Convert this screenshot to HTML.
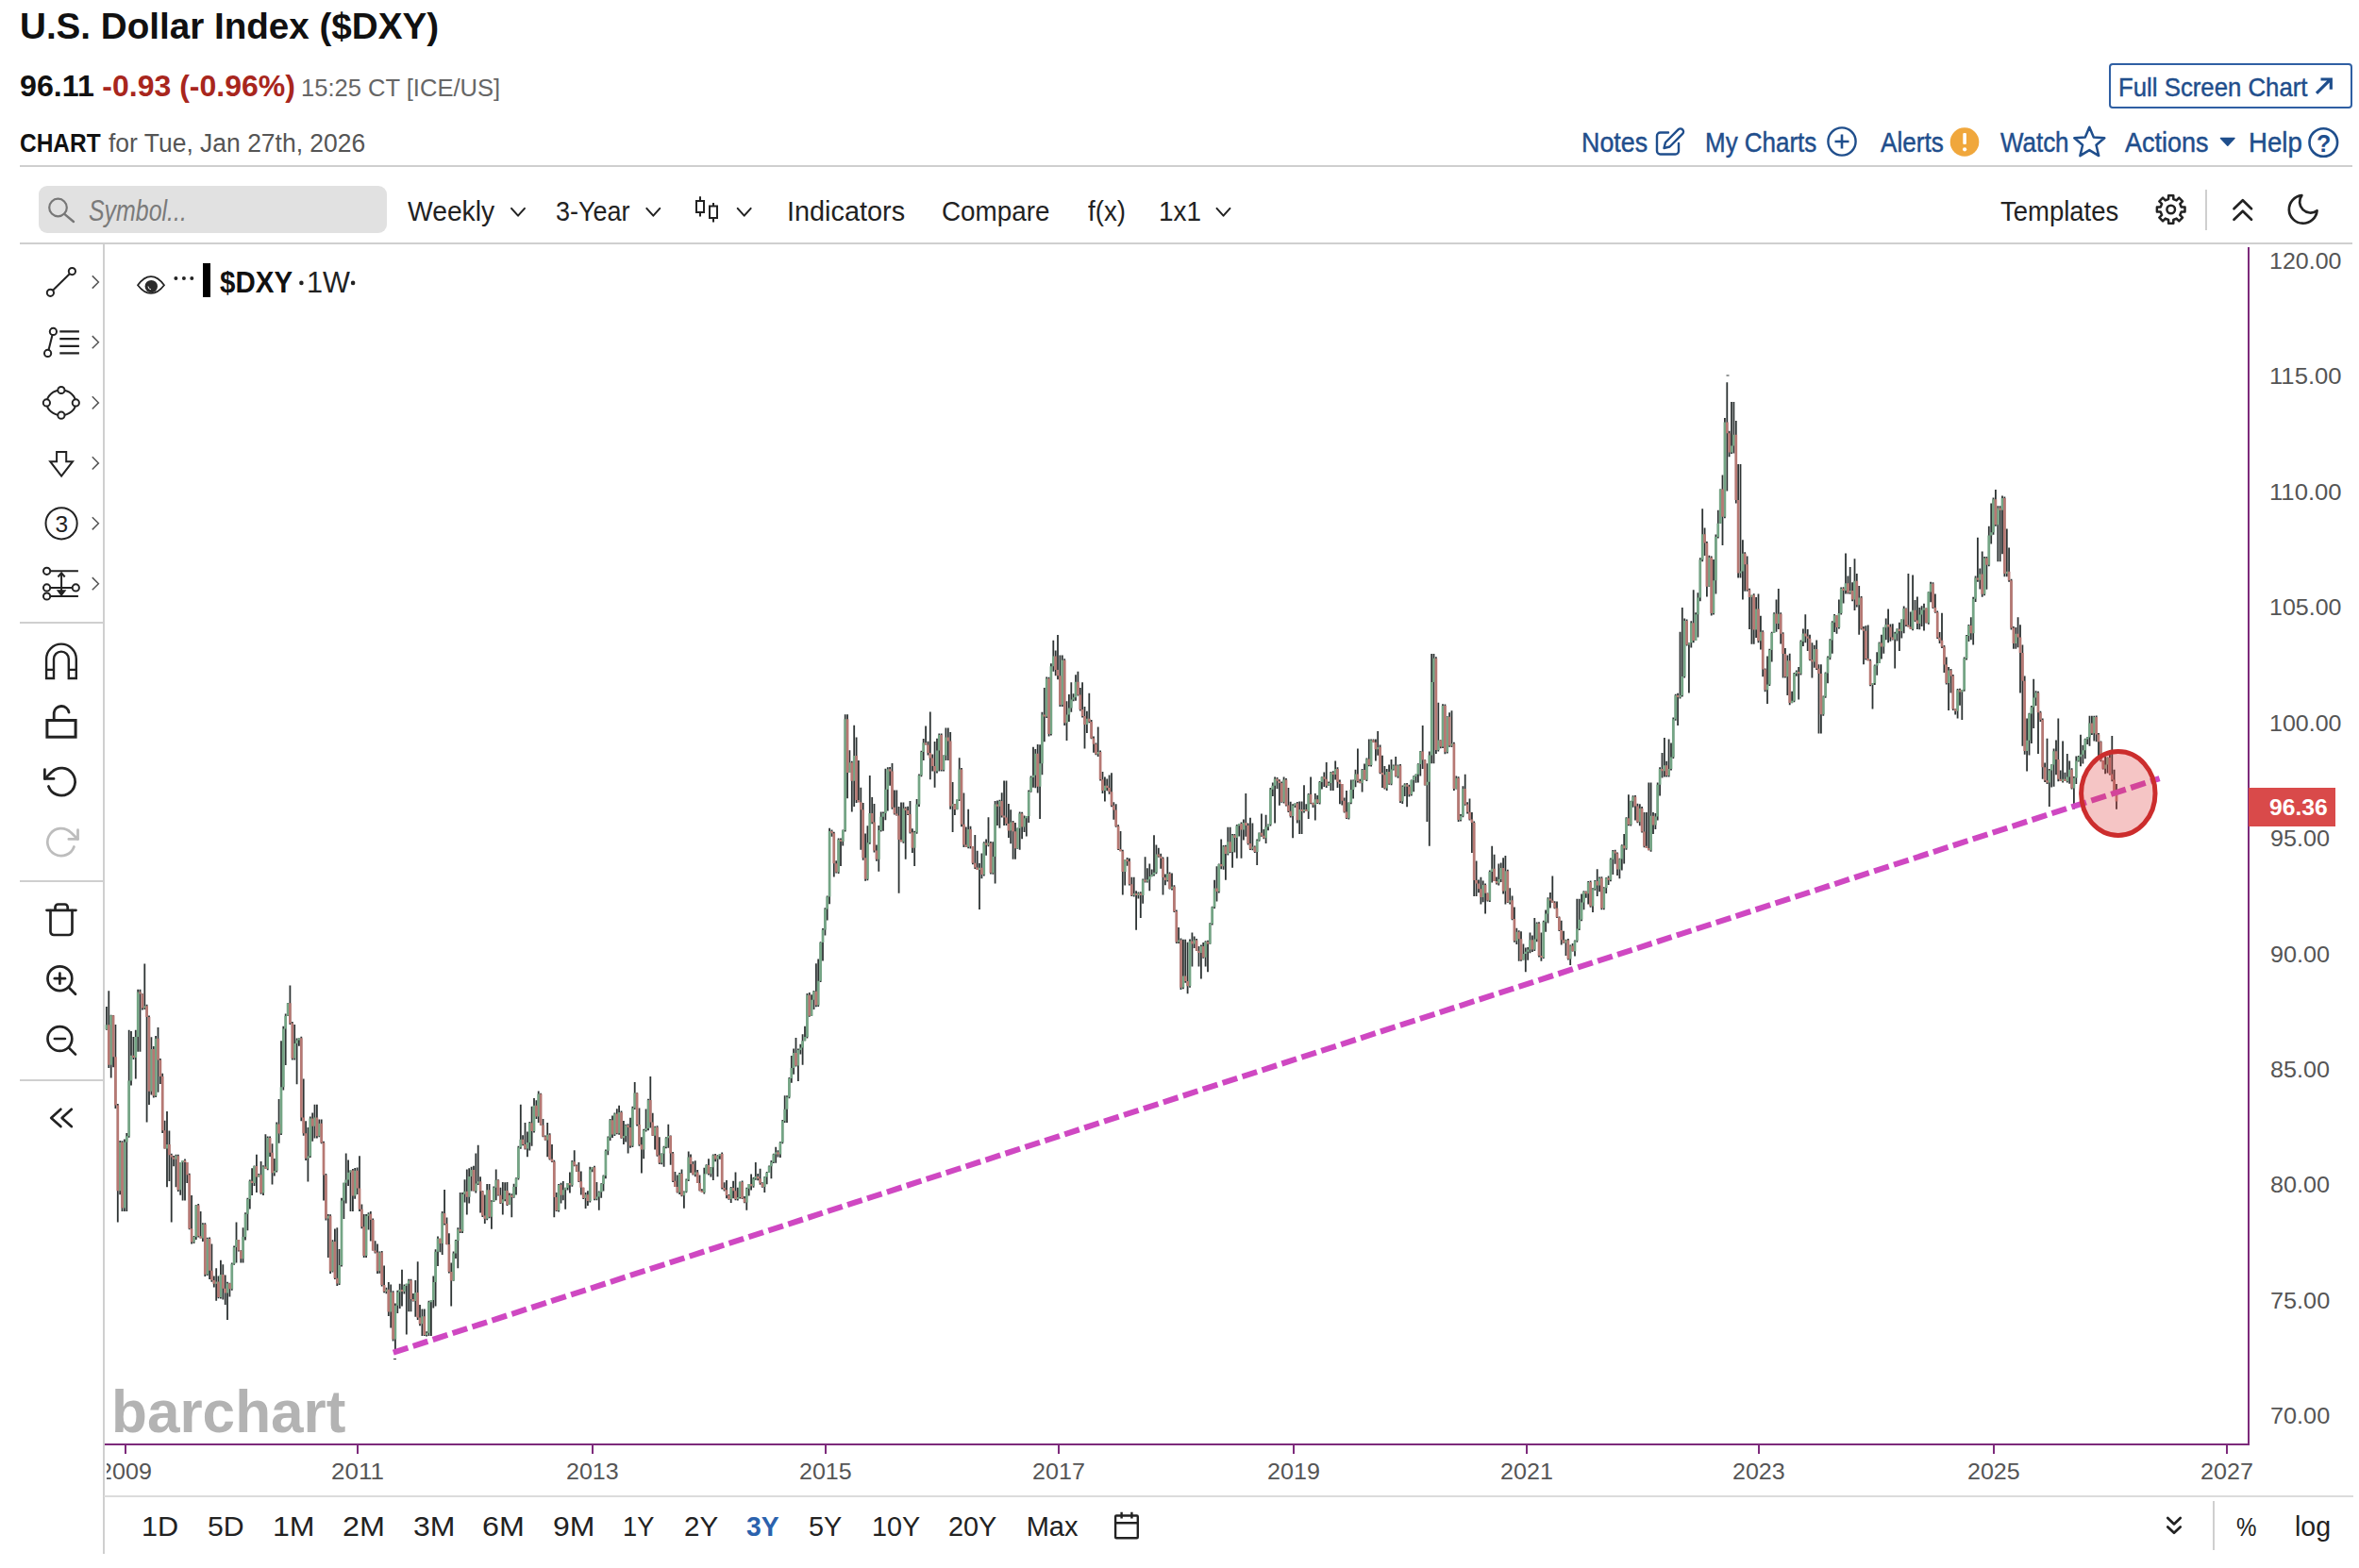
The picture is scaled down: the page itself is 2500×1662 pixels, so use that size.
<!DOCTYPE html>
<html><head><meta charset="utf-8"><title>U.S. Dollar Index ($DXY)</title>
<style>
html,body{margin:0;padding:0;background:#fff;}
body{width:2500px;height:1662px;position:relative;overflow:hidden;font-family:"Liberation Sans",sans-serif;}
.abs{position:absolute;}
.t{position:absolute;white-space:nowrap;margin:0;padding:0;transform-origin:0 0;}
svg{overflow:visible}
</style></head><body>
<span class="t" style="left:20.6px;top:7.5px;font-size:39.4px;line-height:39.4px;color:#111;transform:scaleX(0.9800);font-weight:bold;">U.S. Dollar Index ($DXY)</span>
<span class="t" style="left:21.3px;top:75.1px;font-size:32px;line-height:32px;color:#111;transform:scaleX(1.0063);font-weight:bold;">96.11</span>
<span class="t" style="left:108.3px;top:75.1px;font-size:32px;line-height:32px;color:#a8261d;font-weight:bold;">-0.93 (-0.96%)</span>
<span class="t" style="left:319.1px;top:79.8px;font-size:26.5px;line-height:26.5px;color:#666;transform:scaleX(0.9643);">15:25 CT [ICE/US]</span>
<span class="t" style="left:21.4px;top:139.1px;font-size:27px;line-height:27px;color:#111;transform:scaleX(0.9061);font-weight:bold;">CHART</span>
<span class="t" style="left:115.4px;top:139.1px;font-size:27px;line-height:27px;color:#555;transform:scaleX(0.9803);">for Tue, Jan 27th, 2026</span>
<svg class="abs" style="left:0;top:0" width="2500" height="1662" viewBox="0 0 2500 1662"><path d="M112.9 1066.9V1091.8M115.3 1050.2V1132.0M117.7 1075.7V1142.5M120.1 1075.9V1131.3M122.4 1086.1V1175.0M124.8 1170.0V1295.6M127.2 1209.1V1266.3M129.5 1209.3V1284.1M131.9 1207.6V1284.1M134.3 1200.9V1284.1M136.7 1091.8V1205.7M139.0 1093.1V1150.6M141.4 1098.9V1123.0M143.8 1091.8V1143.5M146.2 1048.8V1114.8M148.5 1048.8V1114.8M150.9 1053.3V1070.5M153.3 1021.5V1069.9M155.6 1064.7V1189.4M158.0 1076.5V1171.0M160.4 1099.2V1160.6M162.8 1109.0V1163.6M165.1 1098.1V1162.9M167.5 1089.0V1157.8M169.9 1122.1V1149.1M172.2 1137.7V1200.9M174.6 1187.7V1217.6M177.0 1177.9V1258.2M179.4 1198.4V1252.0M181.7 1222.8V1295.6M184.1 1225.0V1236.3M186.5 1223.8V1258.2M188.8 1223.7V1262.9M191.2 1231.9V1266.8M193.6 1229.9V1272.6M196.0 1228.4V1272.6M198.3 1232.0V1254.0M200.7 1243.8V1303.3M203.1 1266.9V1318.5M205.5 1310.1V1317.9M207.8 1277.0V1314.0M210.2 1275.9V1311.6M212.6 1284.1V1312.4M214.9 1296.2V1315.9M217.3 1296.2V1352.9M219.7 1311.7V1352.1M222.1 1311.4V1356.1M224.4 1318.5V1358.7M226.8 1352.6V1364.5M229.2 1344.3V1378.8M231.5 1352.6V1376.3M233.9 1335.7V1376.4M236.3 1340.3V1377.5M238.7 1351.5V1383.0M241.0 1358.7V1398.9M243.4 1359.7V1374.5M245.8 1338.6V1367.7M248.1 1320.5V1340.8M250.5 1295.6V1338.6M252.9 1314.0V1326.5M255.3 1325.3V1338.6M257.6 1301.3V1338.6M260.0 1285.2V1314.4M262.4 1269.7V1304.2M264.8 1250.5V1281.4M267.1 1238.2V1266.9M269.5 1235.5V1257.0M271.9 1223.8V1264.0M274.2 1244.1V1247.5M276.6 1230.9V1265.8M279.0 1235.3V1266.9M281.4 1202.3V1238.8M283.7 1204.4V1240.3M286.1 1204.4V1225.9M288.5 1212.3V1255.4M290.8 1227.9V1246.6M293.2 1189.4V1242.5M295.6 1164.9V1211.8M298.0 1103.3V1203.1M300.3 1087.7V1155.6M302.7 1074.6V1129.1M305.1 1063.1V1076.9M307.4 1044.5V1086.1M309.8 1082.9V1123.4M312.2 1086.1V1123.4M314.6 1100.4V1149.2M316.9 1100.2V1108.8M319.3 1098.7V1188.2M321.7 1143.5V1203.7M324.1 1188.3V1230.1M326.4 1195.1V1252.5M328.8 1183.6V1227.1M331.2 1179.6V1209.8M333.5 1170.7V1206.6M335.9 1170.7V1206.6M338.3 1186.4V1205.2M340.7 1186.5V1212.3M343.0 1209.8V1272.6M345.4 1243.9V1293.6M347.8 1286.9V1332.9M350.1 1287.3V1350.1M352.5 1314.3V1348.6M354.9 1302.6V1356.1M357.3 1301.3V1363.0M359.6 1324.1V1362.0M362.0 1269.7V1342.6M364.4 1253.8V1292.0M366.7 1222.4V1275.5M369.1 1229.4V1256.9M371.5 1240.6V1284.1M373.9 1239.1V1284.1M376.2 1238.1V1270.8M378.6 1237.6V1265.9M381.0 1225.3V1284.1M383.4 1276.6V1302.3M385.7 1286.9V1332.9M388.1 1286.9V1332.9M390.5 1285.2V1303.5M392.8 1284.1V1315.6M395.2 1291.4V1325.4M397.6 1315.3V1328.6M400.0 1318.5V1350.1M402.3 1326.4V1349.7M404.7 1326.1V1363.6M407.1 1341.5V1370.2M409.4 1364.8V1371.2M411.8 1359.1V1395.0M414.2 1361.5V1407.5M416.6 1368.3V1421.6M418.9 1381.6V1433.3M421.3 1367.7V1391.9M423.7 1360.7V1386.9M426.0 1345.8V1384.5M428.4 1361.5V1371.4M430.8 1360.8V1414.6M433.2 1355.8V1390.2M435.5 1355.7V1390.2M437.9 1370.9V1379.4M440.3 1356.9V1395.7M442.7 1337.2V1398.9M445.0 1382.9V1405.2M447.4 1387.4V1416.1M449.8 1387.4V1416.1M452.1 1411.2V1416.4M454.5 1378.8V1416.1M456.9 1378.1V1416.1M459.3 1352.5V1386.6M461.6 1324.2V1384.5M464.0 1310.5V1341.9M466.4 1312.7V1327.3M468.7 1284.1V1330.0M471.1 1261.1V1298.4M473.5 1290.4V1319.2M475.9 1307.2V1349.6M478.2 1338.6V1384.5M480.6 1326.6V1357.8M483.0 1313.9V1333.9M485.3 1301.3V1344.3M487.7 1264.0V1307.0M490.1 1264.0V1307.0M492.5 1250.3V1274.6M494.8 1239.6V1287.5M497.2 1238.2V1275.5M499.6 1236.8V1262.6M502.0 1235.8V1262.5M504.3 1222.4V1264.5M506.7 1213.8V1255.9M509.1 1247.3V1285.6M511.4 1262.1V1289.9M513.8 1266.4V1297.0M516.2 1254.9V1293.2M518.6 1254.9V1291.3M520.9 1272.2V1302.8M523.3 1257.4V1274.0M525.7 1239.6V1272.2M528.0 1250.3V1267.6M530.4 1258.8V1276.0M532.8 1253.0V1287.5M535.2 1253.2V1273.2M537.5 1253.0V1277.9M539.9 1264.6V1276.9M542.3 1265.3V1290.3M544.6 1254.7V1269.8M547.0 1248.3V1266.4M549.4 1214.8V1250.5M551.8 1170.8V1217.7M554.1 1203.2V1214.3M556.5 1189.9V1218.6M558.9 1199.5V1226.3M561.3 1189.0V1219.4M563.6 1172.7V1214.8M566.0 1164.1V1200.6M568.4 1166.2V1185.9M570.7 1156.4V1189.9M573.1 1158.8V1192.8M575.5 1186.1V1205.2M577.9 1203.6V1208.7M580.2 1189.9V1226.3M582.6 1201.2V1229.5M585.0 1212.9V1232.0M587.3 1229.7V1290.3M589.7 1264.1V1284.1M592.1 1254.9V1284.6M594.5 1253.8V1275.5M596.8 1252.1V1272.2M599.2 1258.8V1281.7M601.6 1254.1V1261.5M603.9 1242.5V1264.5M606.3 1230.1V1257.8M608.7 1219.2V1236.2M611.1 1234.5V1241.9M613.4 1232.0V1253.0M615.8 1241.6V1266.4M618.2 1258.7V1271.0M620.6 1264.1V1281.1M622.9 1262.2V1277.9M625.3 1236.8V1274.5M627.7 1237.3V1242.3M630.0 1235.8V1272.2M632.4 1253.0V1272.2M634.8 1262.6V1282.7M637.2 1254.3V1269.8M639.5 1245.5V1262.5M641.9 1218.6V1249.2M644.3 1204.4V1224.2M646.6 1186.1V1209.0M649.0 1182.5V1205.9M651.4 1179.4V1204.1M653.8 1175.3V1202.3M656.1 1171.7V1202.7M658.5 1177.6V1206.7M660.9 1188.0V1212.9M663.2 1191.7V1210.5M665.6 1191.2V1222.4M668.0 1184.8V1216.7M670.4 1172.7V1215.9M672.7 1146.9V1175.9M675.1 1158.3V1193.6M677.5 1174.6V1214.8M679.9 1205.2V1243.5M682.2 1196.8V1228.3M684.6 1175.6V1199.6M687.0 1164.7V1198.3M689.3 1141.1V1195.6M691.7 1179.8V1204.1M694.1 1193.7V1218.6M696.5 1193.3V1225.7M698.8 1205.2V1233.9M701.2 1222.6V1234.3M703.6 1214.8V1236.8M705.9 1205.3V1217.3M708.3 1191.8V1216.7M710.7 1203.5V1234.7M713.1 1221.0V1253.0M715.4 1242.1V1258.1M717.8 1245.4V1264.5M720.2 1243.0V1266.1M722.5 1239.6V1268.3M724.9 1262.6V1280.8M727.3 1249.6V1264.2M729.7 1220.5V1251.9M732.0 1223.4V1243.2M734.4 1231.1V1245.4M736.8 1230.2V1247.2M739.2 1239.9V1254.0M741.5 1245.4V1262.6M743.9 1260.3V1264.1M746.3 1237.7V1265.6M748.6 1234.2V1244.3M751.0 1228.2V1245.4M753.4 1236.9V1247.5M755.8 1223.4V1251.1M758.1 1223.0V1231.3M760.5 1224.3V1247.3M762.9 1223.1V1228.7M765.2 1221.6V1260.6M767.6 1253.2V1262.4M770.0 1251.1V1270.3M772.4 1266.0V1271.8M774.7 1257.9V1274.9M777.1 1251.7V1270.3M779.5 1242.5V1272.2M781.8 1258.8V1272.5M784.2 1252.4V1270.4M786.6 1251.6V1271.1M789.0 1268.0V1275.2M791.3 1258.8V1282.7M793.7 1254.9V1267.4M796.1 1244.5V1261.5M798.5 1247.9V1258.7M800.8 1232.0V1250.8M803.2 1243.9V1251.2M805.6 1238.8V1255.8M807.9 1253.2V1258.8M810.3 1246.9V1263.9M812.7 1242.1V1255.2M815.1 1235.5V1243.1M817.4 1230.1V1249.2M819.8 1222.8V1232.9M822.2 1215.8V1232.8M824.5 1219.2V1226.4M826.9 1210.1V1227.1M829.3 1187.1V1212.3M831.7 1161.2V1189.9M834.0 1161.2V1189.9M836.4 1142.1V1164.2M838.8 1119.1V1147.8M841.1 1111.6V1138.7M843.5 1100.0V1130.6M845.9 1111.5V1145.9M848.3 1106.8V1117.4M850.6 1096.2V1128.7M853.0 1087.7V1103.3M855.4 1052.9V1100.6M857.8 1051.9V1077.8M860.1 1054.2V1076.7M862.5 1050.0V1070.1M864.9 1021.3V1067.2M867.2 1016.4V1066.9M869.6 998.3V1041.0M872.0 984.0V1018.4M874.4 962.3V991.4M876.7 949.6V975.4M879.1 877.8V958.2M881.5 879.5V886.7M883.8 881.7V929.5M886.2 912.2V925.4M888.6 888.4V926.1M891.0 888.4V918.0M893.3 879.4V896.4M895.7 757.3V881.5M898.1 757.3V846.3M900.4 795.3V819.1M902.8 806.7V860.6M905.2 768.8V854.9M907.6 781.6V850.9M909.9 806.1V850.3M912.3 834.8V900.8M914.7 850.9V911.7M917.1 883.6V933.8M919.4 875.3V933.3M921.8 821.9V894.7M924.2 845.0V873.3M926.5 852.0V903.6M928.9 895.4V912.8M931.3 874.9V923.7M933.7 860.6V881.6M936.0 860.6V880.7M938.4 814.7V869.2M940.8 813.2V859.5M943.1 813.0V832.8M945.5 809.0V857.7M947.9 837.6V863.5M950.3 837.6V864.6M952.6 854.9V946.7M955.0 850.6V892.2M957.4 850.6V893.7M959.7 855.2V910.8M962.1 854.8V864.1M964.5 849.1V883.6M966.9 878.2V903.9M969.2 880.7V918.0M971.6 847.1V883.7M974.0 820.4V854.9M976.4 795.8V823.3M978.7 783.1V806.1M981.1 769.6V789.5M983.5 785.8V800.5M985.8 754.4V826.2M988.2 799.4V817.5M990.6 786.0V834.8M993.0 782.7V819.5M995.3 777.4V817.6M997.7 777.4V817.6M1000.1 800.5V817.5M1002.4 771.6V806.1M1004.8 771.6V806.1M1007.2 776.0V857.7M1009.6 829.0V882.1M1011.9 852.1V864.1M1014.3 847.5V858.3M1016.7 803.2V849.1M1019.0 814.0V876.2M1021.4 840.5V897.9M1023.8 876.4V897.9M1026.2 857.7V899.3M1028.5 875.8V899.5M1030.9 897.0V916.3M1033.3 885.0V920.9M1035.7 901.8V922.0M1038.0 915.1V963.9M1040.4 904.4V931.2M1042.8 892.2V928.4M1045.1 889.4V906.8M1047.5 866.3V897.3M1049.9 892.1V926.6M1052.3 892.2V926.7M1054.6 849.1V936.6M1057.0 848.6V875.0M1059.4 847.7V877.8M1061.7 840.2V866.5M1064.1 827.6V874.9M1066.5 827.6V874.9M1068.9 852.0V887.9M1071.2 858.2V894.3M1073.6 869.9V910.8M1076.0 872.1V910.8M1078.3 877.4V899.8M1080.7 860.6V900.8M1083.1 860.7V889.3M1085.5 864.5V881.9M1087.8 865.0V886.4M1090.2 837.6V872.1M1092.6 822.5V839.7M1095.0 791.7V834.8M1097.3 793.9V835.2M1099.7 788.9V840.5M1102.1 789.2V868.1M1104.4 754.7V821.3M1106.8 729.0V786.3M1109.2 717.5V761.1M1111.6 717.7V780.6M1113.9 703.2V779.6M1116.3 678.7V711.7M1118.7 689.5V716.3M1121.0 673.0V720.3M1123.4 694.5V749.0M1125.8 694.5V749.0M1128.2 698.2V769.1M1130.5 743.3V784.9M1132.9 736.1V765.1M1135.3 723.2V754.8M1137.6 735.2V743.2M1140.0 715.3V742.8M1142.4 711.7V737.6M1144.8 729.1V753.5M1147.1 723.2V760.5M1149.5 749.0V793.5M1151.9 753.8V777.0M1154.3 734.7V766.3M1156.6 763.0V783.3M1159.0 780.6V797.8M1161.4 787.6V800.2M1163.7 770.6V802.1M1166.1 795.5V827.4M1168.5 817.9V840.9M1170.9 823.6V849.5M1173.2 825.5V838.3M1175.6 821.5V841.7M1178.0 819.3V855.2M1180.3 850.3V868.7M1182.7 852.3V876.7M1185.1 874.3V901.1M1187.5 881.0V902.2M1189.8 900.7V948.5M1192.2 910.9V938.5M1194.6 908.9V917.7M1196.9 909.7V938.4M1199.3 929.8V949.9M1201.7 929.8V950.6M1204.1 944.2V985.8M1206.4 945.4V952.6M1208.8 945.3V972.9M1211.2 931.4V957.8M1213.6 908.3V935.6M1215.9 920.3V935.6M1218.3 915.5V944.2M1220.7 921.6V929.3M1223.0 885.3V928.4M1225.4 895.4V926.2M1227.8 898.8V908.8M1230.2 904.7V920.8M1232.5 908.4V948.5M1234.9 926.5V938.3M1237.3 908.3V934.6M1239.6 924.5V942.6M1242.0 925.6V943.4M1244.4 938.2V967.1M1246.8 964.5V1000.0M1249.1 983.0V1000.1M1251.5 994.4V1048.9M1253.9 995.8V1048.2M1256.2 995.8V1041.7M1258.6 998.7V1053.2M1261.0 995.5V1046.7M1263.4 988.6V1024.5M1265.7 992.6V1004.9M1268.1 995.0V1007.8M1270.5 1003.0V1024.5M1272.9 1001.5V1037.4M1275.2 998.9V1015.8M1277.6 997.2V1024.5M1280.0 996.8V1030.2M1282.3 978.2V1000.8M1284.7 960.8V980.6M1287.1 932.7V963.1M1289.5 918.3V955.6M1291.8 915.6V946.6M1294.2 889.6V921.2M1296.6 896.0V921.7M1298.9 895.8V932.7M1301.3 876.7V906.4M1303.7 876.7V904.0M1306.1 883.9V919.8M1308.4 884.0V903.6M1310.8 873.9V909.7M1313.2 873.1V886.6M1315.5 871.6V909.7M1317.9 868.5V890.6M1320.3 840.9V886.8M1322.7 872.5V895.6M1325.0 866.7V901.1M1327.4 872.4V901.2M1329.8 896.4V903.9M1332.2 889.6V916.9M1334.5 882.6V891.7M1336.9 862.4V886.8M1339.3 879.1V889.3M1341.6 863.8V893.9M1344.0 873.6V880.3M1346.4 835.1V875.6M1348.8 829.5V843.9M1351.1 823.6V872.4M1353.5 824.1V836.3M1355.9 826.3V853.7M1358.2 828.5V850.8M1360.6 823.6V851.4M1363.0 824.9V854.6M1365.4 835.1V860.9M1367.7 849.7V866.6M1370.1 852.3V888.2M1372.5 851.6V856.0M1374.8 850.1V872.4M1377.2 849.5V883.9M1379.6 849.5V883.9M1382.0 832.3V861.6M1384.3 852.3V860.1M1386.7 840.9V868.1M1389.1 823.6V852.3M1391.5 850.7V856.0M1393.8 840.9V869.6M1396.2 842.9V851.9M1398.6 828.1V852.6M1400.9 823.2V836.5M1403.3 818.5V833.9M1405.7 807.9V835.1M1408.1 828.5V832.8M1410.4 817.9V838.0M1412.8 817.2V838.0M1415.2 806.4V826.5M1417.5 813.2V835.1M1419.9 826.5V852.3M1422.3 831.0V853.4M1424.7 845.4V861.5M1427.0 838.0V868.1M1429.4 850.6V868.4M1431.8 826.5V852.2M1434.1 826.5V846.6M1436.5 815.8V834.2M1438.9 793.5V829.4M1441.3 825.8V830.3M1443.6 815.0V839.4M1446.0 809.6V826.4M1448.4 803.6V827.9M1450.8 783.5V812.2M1453.1 783.5V812.5M1455.5 783.4V786.9M1457.9 783.5V806.4M1460.2 774.9V800.7M1462.6 789.5V820.2M1465.0 800.7V835.1M1467.4 812.1V836.6M1469.7 815.0V838.0M1472.1 810.6V831.7M1474.5 805.0V832.2M1476.8 810.4V816.5M1479.2 802.1V823.6M1481.6 810.5V824.8M1484.0 810.0V850.9M1486.3 832.5V852.0M1488.7 830.3V843.9M1491.1 830.1V855.2M1493.4 831.7V844.5M1495.8 826.5V843.6M1498.2 822.3V839.3M1500.6 820.6V829.8M1502.9 809.3V829.4M1505.3 795.9V822.4M1507.7 769.1V815.0M1510.1 805.3V832.4M1512.4 809.3V871.0M1514.8 796.4V896.8M1517.2 693.1V809.3M1519.5 693.1V809.3M1521.9 696.2V799.0M1524.3 744.7V796.4M1526.7 784.3V793.3M1529.0 746.2V792.9M1531.4 746.5V799.3M1533.8 759.2V798.6M1536.1 755.2V791.8M1538.5 753.3V791.9M1540.9 786.7V838.0M1543.3 822.4V836.4M1545.6 823.2V871.0M1548.0 862.9V870.6M1550.4 833.3V866.3M1552.7 820.8V853.8M1555.1 850.2V862.5M1557.5 846.6V869.6M1559.9 860.9V904.0M1562.2 870.6V949.9M1564.6 912.6V949.9M1567.0 932.6V946.3M1569.4 929.8V958.5M1571.7 933.6V956.3M1574.1 936.6V968.6M1576.5 946.5V955.6M1578.8 922.6V956.1M1581.2 896.8V935.6M1583.6 905.7V933.9M1586.0 929.5V937.5M1588.3 915.5V938.4M1590.7 914.6V935.1M1593.1 909.2V947.5M1595.4 906.9V958.5M1597.8 921.7V957.1M1600.2 941.3V958.5M1602.6 949.6V975.2M1604.9 961.4V998.7M1607.3 983.8V1001.1M1609.7 986.3V1018.8M1612.0 987.2V1018.8M1614.4 1000.4V1017.6M1616.8 1004.4V1030.2M1619.2 1004.1V1017.7M1621.5 988.6V1010.2M1623.9 991.6V1009.1M1626.3 972.9V1007.9M1628.7 977.4V998.2M1631.0 977.2V1014.4M1633.4 988.6V1018.8M1635.8 975.7V1015.9M1638.1 964.5V987.8M1640.5 951.3V978.6M1642.9 945.9V962.6M1645.3 928.4V956.8M1647.6 955.2V963.2M1650.0 955.6V972.9M1652.4 971.4V986.9M1654.7 975.7V1001.5M1657.1 986.8V999.7M1659.5 995.8V1013.0M1661.9 995.0V1017.4M1664.2 1001.5V1023.1M1666.6 999.9V1008.5M1669.0 996.6V1013.6M1671.3 952.8V998.8M1673.7 952.8V986.0M1676.1 947.5V976.2M1678.5 944.2V964.2M1680.8 944.4V951.8M1683.2 934.1V958.5M1685.6 933.6V961.7M1688.0 941.3V967.1M1690.3 932.9V943.7M1692.7 921.2V949.9M1695.1 929.6V945.2M1697.4 929.2V964.2M1699.8 940.2V964.3M1702.2 929.9V946.9M1704.6 928.5V938.1M1706.9 909.4V934.3M1709.3 901.1V926.9M1711.7 900.7V915.8M1714.0 903.4V928.0M1716.4 909.7V931.2M1718.8 895.2V922.4M1721.2 883.9V915.5M1723.5 866.2V900.8M1725.9 842.3V875.3M1728.3 848.8V875.5M1730.6 843.2V855.7M1733.0 842.9V869.6M1735.4 851.7V872.2M1737.8 852.3V875.3M1740.1 855.1V882.5M1742.5 860.9V898.2M1744.9 860.9V899.0M1747.3 829.4V901.2M1749.6 829.4V902.7M1752.0 860.9V883.9M1754.4 862.0V878.9M1756.7 829.4V869.6M1759.1 813.3V843.4M1761.5 798.0V824.4M1763.9 782.0V823.6M1766.2 806.8V823.6M1768.6 783.5V823.6M1771.0 787.5V816.4M1773.3 760.5V803.9M1775.7 735.8V763.8M1778.1 734.7V769.1M1780.5 669.8V740.6M1782.8 644.0V738.4M1785.2 655.5V718.4M1787.6 656.5V684.5M1789.9 681.2V734.4M1792.3 658.3V686.4M1794.7 625.3V681.3M1797.1 649.3V679.1M1799.4 628.2V675.6M1801.8 591.3V637.2M1804.2 539.3V595.2M1806.6 559.6V588.9M1808.9 574.1V632.5M1811.3 588.8V622.0M1813.7 589.4V652.6M1816.0 593.1V651.6M1818.4 566.5V629.6M1820.8 540.7V570.5M1823.2 518.5V554.8M1825.5 503.4V578.0M1827.9 443.1V549.2M1830.3 405.3V520.6M1832.6 456.8V484.3M1835.0 425.9V480.9M1837.4 425.9V480.4M1839.8 446.0V533.5M1842.1 491.9V612.4M1844.5 491.9V612.4M1846.9 572.3V635.4M1849.2 585.2V626.8M1851.6 589.5V626.8M1854.0 623.8V666.9M1856.4 630.8V682.7M1858.7 629.3V682.7M1861.1 633.1V675.9M1863.5 629.6V681.3M1865.9 652.7V688.4M1868.2 668.3V717.2M1870.6 708.4V733.3M1873.0 695.6V745.9M1875.3 687.8V727.0M1877.7 669.8V701.4M1880.1 649.2V671.1M1882.5 635.4V669.8M1884.8 623.9V666.9M1887.2 649.2V682.6M1889.6 670.2V718.6M1891.9 687.0V718.6M1894.3 694.6V736.9M1896.7 692.8V747.3M1899.1 732.7V745.2M1901.4 712.9V744.3M1903.8 710.6V716.8M1906.2 707.1V741.5M1908.5 678.4V715.6M1910.9 666.6V685.0M1913.3 651.2V681.3M1915.7 666.9V689.9M1918.0 672.7V700.3M1920.4 681.3V718.6M1922.8 683.8V707.8M1925.2 678.4V710.0M1927.5 704.2V777.4M1929.9 704.2V777.4M1932.3 737.4V758.7M1934.6 712.6V739.7M1937.0 695.6V724.3M1939.4 677.3V699.3M1941.8 658.3V692.8M1944.1 651.0V669.9M1946.5 652.2V671.7M1948.9 635.4V666.6M1951.2 622.6V651.5M1953.6 622.2V639.6M1956.0 586.6V629.6M1958.4 610.6V629.6M1960.7 600.9V629.7M1963.1 617.2V637.3M1965.5 592.3V646.9M1967.8 607.9V643.6M1970.2 621.0V672.7M1972.6 632.1V667.4M1975.0 664.1V704.2M1977.3 663.3V699.5M1979.7 662.6V700.3M1982.1 698.8V727.2M1984.5 723.9V751.6M1986.8 704.6V725.9M1989.2 691.3V715.7M1991.6 680.4V703.0M1993.9 672.7V698.5M1996.3 664.8V692.8M1998.7 655.5V678.2M2001.1 645.4V681.3M2003.4 661.6V679.8M2005.8 661.2V678.4M2008.2 669.8V708.6M2010.5 666.2V679.5M2012.9 659.8V689.9M2015.3 656.6V676.4M2017.7 642.6V671.2M2020.0 644.6V663.9M2022.4 608.1V664.6M2024.8 648.4V666.8M2027.1 609.6V668.3M2029.5 636.1V659.0M2031.9 632.5V666.9M2034.3 644.0V667.3M2036.6 642.2V664.1M2039.0 639.7V668.4M2041.4 644.4V660.4M2043.8 627.2V661.8M2046.1 616.7V638.2M2048.5 617.2V645.0M2050.9 629.6V649.7M2053.2 647.4V677.0M2055.6 670.1V682.0M2058.0 649.7V687.0M2060.4 684.0V712.9M2062.7 696.6V725.5M2065.1 707.1V753.0M2067.5 709.0V734.6M2069.8 715.0V753.0M2072.2 751.3V757.5M2074.6 730.1V761.6M2077.0 729.8V747.8M2079.3 731.3V763.1M2081.7 696.6V732.8M2084.1 672.9V699.5M2086.4 662.0V679.9M2088.8 654.2V678.3M2091.2 632.7V683.6M2093.6 610.6V638.1M2095.9 569.8V616.7M2098.3 602.6V624.4M2100.7 584.5V632.7M2103.1 589.9V631.3M2105.4 589.9V624.7M2107.8 557.7V600.3M2110.2 533.6V576.5M2112.5 527.6V566.8M2114.9 518.9V557.7M2117.3 536.3V595.2M2119.7 536.3V595.2M2122.0 525.6V587.2M2124.4 526.5V611.3M2126.8 560.4V611.3M2129.1 580.5V616.7M2131.5 613.7V667.6M2133.9 663.9V687.7M2136.3 664.9V687.7M2138.6 654.2V686.3M2141.0 662.2V734.6M2143.4 683.6V790.8M2145.7 716.5V799.8M2148.1 761.4V817.6M2150.5 755.8V800.5M2152.9 748.0V788.1M2155.2 719.8V772.1M2157.6 732.2V747.9M2160.0 732.7V798.9M2162.4 753.8V765.1M2164.7 761.4V825.7M2167.1 808.6V829.1M2169.5 782.8V831.0M2171.8 814.9V855.1M2174.2 810.3V834.6M2176.6 793.5V833.7M2179.0 784.4V821.3M2181.3 761.4V828.3M2183.7 816.4V827.9M2186.1 785.5V829.4M2188.4 818.8V827.9M2190.8 798.9V829.4M2193.2 806.4V830.7M2195.6 814.3V836.4M2197.9 823.0V857.8M2200.3 801.5V831.0M2202.7 801.0V807.6M2205.0 778.8V812.3M2207.4 789.8V809.5M2209.8 782.8V804.2M2212.2 781.3V789.1M2214.5 758.7V790.8M2216.9 758.7V779.1M2219.3 758.7V785.5M2221.7 758.4V786.3M2224.0 776.9V801.5M2226.4 785.6V807.2M2228.8 806.2V815.5M2231.1 801.5V820.3M2233.5 802.4V819.4M2235.9 795.6V821.4M2238.3 780.1V828.3M2240.6 815.8V840.3M2243.0 831.0V857.8" stroke="#2e3434" stroke-width="1.8" fill="none"/><path d="M112.9 1086.2V1091.1M117.7 1076.2V1128.7M127.2 1210.8V1262.2M131.9 1210.6V1280.4M134.3 1204.2V1210.6M136.7 1145.6V1204.2M139.0 1118.7V1145.6M143.8 1099.0V1120.9M146.2 1051.4V1099.0M153.3 1066.2V1068.4M160.4 1112.0V1156.8M165.1 1100.7V1161.4M177.0 1213.0V1217.4M186.5 1225.2V1228.7M191.2 1232.1V1261.3M193.6 1229.9V1232.1M205.5 1311.1V1316.4M207.8 1277.4V1311.1M214.9 1297.7V1312.4M219.7 1312.9V1350.7M229.2 1358.6V1360.8M233.9 1350.9V1374.9M241.0 1360.3V1370.6M245.8 1339.8V1366.2M248.1 1321.9V1339.8M250.5 1314.0V1321.9M257.6 1311.1V1334.2M260.0 1286.7V1311.1M262.4 1271.1V1286.7M264.8 1251.7V1271.1M269.5 1236.0V1253.9M274.2 1245.2V1247.4M279.0 1236.6V1264.4M283.7 1205.9V1238.8M290.8 1241.0V1243.2M293.2 1191.5V1241.0M298.0 1152.2V1201.6M300.3 1090.5V1152.2M302.7 1076.8V1090.5M305.1 1063.2V1076.8M312.2 1105.9V1121.8M314.6 1102.4V1105.9M316.9 1100.2V1102.4M326.4 1225.6V1227.8M328.8 1185.4V1225.6M333.5 1184.4V1193.8M338.3 1190.7V1204.2M347.8 1288.8V1291.6M352.5 1315.9V1347.6M359.6 1341.1V1360.5M362.0 1272.6V1341.1M364.4 1253.8V1272.6M366.7 1250.6V1253.8M369.1 1242.8V1250.6M371.5 1240.6V1242.8M376.2 1240.8V1267.4M388.1 1288.8V1331.0M390.5 1286.7V1288.8M402.3 1327.6V1347.2M409.4 1366.8V1369.0M414.2 1369.8V1390.6M418.9 1383.7V1419.5M421.3 1369.5V1383.7M423.7 1367.0V1369.5M428.4 1363.0V1369.1M430.8 1360.8V1363.0M433.2 1357.2V1360.8M440.3 1370.0V1379.0M447.4 1395.2V1403.3M452.1 1412.7V1414.9M454.5 1380.3V1412.7M456.9 1378.1V1380.3M459.3 1359.0V1378.1M461.6 1326.7V1359.0M464.0 1312.7V1326.7M468.7 1285.9V1317.9M480.6 1328.4V1357.6M483.0 1314.9V1328.4M485.3 1303.0V1314.9M490.1 1265.7V1305.3M492.5 1262.7V1265.7M497.2 1247.0V1268.8M499.6 1240.0V1247.0M504.3 1254.4V1262.2M506.7 1252.2V1254.4M516.2 1261.3V1291.7M520.9 1273.4V1289.8M523.3 1258.7V1273.4M525.7 1250.7V1258.7M532.8 1271.2V1275.3M535.2 1261.9V1271.2M539.9 1266.8V1276.9M544.6 1258.1V1269.0M547.0 1249.0V1258.1M549.4 1216.2V1249.0M551.8 1207.7V1216.2M558.9 1211.0V1217.5M561.3 1190.3V1211.0M566.0 1171.7V1199.1M570.7 1159.6V1183.5M580.2 1202.7V1208.4M592.1 1256.1V1283.1M596.8 1261.3V1266.7M599.2 1259.1V1261.3M601.6 1254.1V1259.1M606.3 1231.2V1256.3M620.6 1266.2V1270.1M625.3 1239.5V1273.0M627.7 1237.3V1239.5M632.4 1268.5V1270.7M634.8 1263.4V1268.5M637.2 1254.9V1263.4M639.5 1246.2V1254.9M641.9 1219.8V1246.2M644.3 1205.5V1219.8M646.6 1187.2V1205.5M651.4 1180.4V1202.6M656.1 1179.1V1201.2M660.9 1204.0V1206.2M663.2 1192.7V1204.0M670.4 1174.4V1214.4M672.7 1158.6V1174.4M682.2 1198.1V1218.5M684.6 1195.9V1198.1M687.0 1166.1V1195.9M694.1 1194.8V1203.7M701.2 1222.8V1232.6M703.6 1215.7V1222.8M705.9 1206.2V1215.7M708.3 1204.0V1206.2M720.2 1243.9V1263.7M724.9 1263.3V1267.2M727.3 1250.4V1263.3M729.7 1226.5V1250.4M736.8 1242.5V1244.7M746.3 1244.3V1264.1M748.6 1235.0V1244.3M753.4 1237.3V1243.9M755.8 1224.5V1237.3M760.5 1225.3V1228.6M762.9 1223.1V1225.3M774.7 1258.9V1271.1M781.8 1268.9V1271.0M784.2 1253.1V1268.9M791.3 1259.7V1274.5M793.7 1255.0V1259.7M798.5 1249.3V1257.2M800.8 1247.1V1249.3M810.3 1247.6V1258.1M812.7 1242.9V1247.6M815.1 1236.2V1242.9M817.4 1231.8V1236.2M819.8 1223.5V1231.8M822.2 1221.3V1223.5M826.9 1210.8V1223.5M829.3 1188.2V1210.8M831.7 1175.8V1188.2M834.0 1162.7V1175.8M836.4 1143.0V1162.7M838.8 1132.1V1143.0M841.1 1116.1V1132.1M845.9 1112.9V1129.4M848.3 1110.6V1112.9M850.6 1103.3V1110.6M853.0 1099.1V1103.3M855.4 1054.8V1099.1M860.1 1059.8V1076.7M862.5 1050.8V1059.8M867.2 1039.7V1065.4M869.6 999.0V1039.7M872.0 985.4V999.0M874.4 963.5V985.4M876.7 950.6V963.5M879.1 881.0V950.6M888.6 889.9V924.6M893.3 880.0V892.1M895.7 762.3V880.0M900.4 808.2V819.1M905.2 801.0V827.7M919.4 893.2V931.8M921.8 862.0V893.2M931.3 880.1V910.8M933.7 865.8V880.1M936.0 862.0V865.8M938.4 836.7V862.0M940.8 815.3V836.7M957.4 856.7V892.2M969.2 882.2V898.8M971.6 852.6V882.2M974.0 821.8V852.6M976.4 796.9V821.8M978.7 787.3V796.9M993.0 795.4V817.6M995.3 779.0V795.4M1000.1 800.7V816.0M1002.4 781.4V800.7M1009.6 852.3V854.5M1014.3 847.6V858.1M1016.7 815.5V847.6M1026.2 878.9V897.8M1038.0 919.8V922.0M1042.8 893.6V926.9M1047.5 893.6V895.8M1052.3 908.1V925.2M1054.6 852.6V908.1M1059.4 848.9V854.8M1071.2 871.4V880.6M1078.3 877.9V899.3M1080.7 862.2V877.9M1085.5 867.2V876.6M1087.8 865.0V867.2M1090.2 839.0V865.0M1092.6 824.0V839.0M1095.0 821.8V824.0M1097.3 798.7V821.8M1102.1 809.3V833.8M1104.4 757.4V809.3M1109.2 719.2V759.6M1113.9 706.3V778.1M1116.3 695.5V706.3M1125.8 699.7V746.9M1130.5 757.5V766.3M1132.9 750.4V757.5M1135.3 741.5V750.4M1137.6 739.3V741.5M1140.0 722.8V739.3M1151.9 761.7V768.0M1163.7 797.0V799.2M1170.9 832.8V837.9M1192.2 910.9V923.9M1201.7 946.9V949.1M1206.4 946.8V949.1M1211.2 932.4V949.0M1215.9 932.3V934.5M1218.3 929.1V932.3M1220.7 926.9V929.1M1223.0 924.7V926.9M1225.4 905.5V924.7M1237.3 926.0V933.1M1242.0 939.7V941.9M1249.1 996.4V998.6M1253.9 1034.5V1046.7M1261.0 997.5V1045.2M1265.7 996.5V1000.6M1272.9 1003.0V1009.9M1277.6 998.3V1014.7M1282.3 979.1V1000.5M1284.7 961.6V979.1M1287.1 941.4V961.6M1291.8 916.1V945.1M1296.6 897.3V918.3M1301.3 892.2V904.9M1306.1 885.3V902.9M1310.8 875.3V887.9M1313.2 873.1V875.3M1317.9 871.9V879.6M1327.4 897.5V899.7M1332.2 890.7V902.9M1334.5 882.7V890.7M1341.6 876.5V888.2M1344.0 874.1V876.5M1346.4 836.7V874.1M1348.8 832.7V836.7M1351.1 825.6V832.7M1360.6 826.4V849.9M1370.1 853.8V864.9M1372.5 851.6V853.8M1377.2 857.9V869.3M1382.0 857.9V860.1M1386.7 842.0V860.1M1393.8 847.3V853.2M1398.6 829.0V851.1M1400.9 823.6V829.0M1408.1 830.0V832.7M1410.4 818.7V830.0M1415.2 815.1V820.9M1429.4 850.7V866.9M1431.8 836.9V850.7M1434.1 827.3V836.9M1436.5 820.6V827.3M1443.6 816.0V830.1M1448.4 804.5V826.4M1453.1 784.6V811.0M1460.2 792.0V794.2M1469.7 818.1V835.4M1474.5 815.5V830.7M1476.8 811.6V815.5M1481.6 811.5V822.8M1486.3 833.8V849.3M1488.7 831.6V833.8M1495.8 827.1V842.1M1498.2 823.0V827.1M1500.6 820.8V823.0M1502.9 810.1V820.8M1505.3 796.4V810.1M1512.4 828.8V832.2M1514.8 800.4V828.8M1517.2 723.1V800.4M1519.5 697.7V723.1M1524.3 784.6V794.9M1529.0 748.0V791.4M1533.8 759.8V797.1M1538.5 788.2V790.4M1543.3 824.7V835.9M1548.0 864.8V869.1M1550.4 835.9V864.8M1571.7 938.1V951.1M1578.8 924.0V954.6M1581.2 920.8V924.0M1588.3 931.9V936.3M1590.7 920.0V931.9M1595.4 923.2V944.5M1600.2 954.3V956.5M1607.3 987.8V997.2M1614.4 1011.0V1017.5M1616.8 1008.8V1011.0M1619.2 1006.6V1008.8M1621.5 996.2V1006.6M1626.3 995.4V1006.4M1628.7 978.7V995.4M1635.8 977.3V1015.1M1638.1 968.5V977.3M1640.5 952.4V968.5M1659.5 996.5V999.4M1664.2 1002.4V1016.5M1669.0 997.3V1008.2M1671.3 984.5V997.3M1673.7 974.7V984.5M1676.1 956.6V974.7M1678.5 945.0V956.6M1683.2 935.1V947.2M1688.0 942.3V960.6M1690.3 934.0V942.3M1695.1 930.7V938.5M1699.8 941.2V962.8M1702.2 930.6V941.2M1706.9 910.8V932.8M1709.3 902.2V910.8M1716.4 910.6V921.5M1718.8 896.3V910.6M1723.5 867.3V899.3M1728.3 849.3V874.0M1730.6 844.4V849.3M1737.8 856.8V871.2M1749.6 864.8V901.2M1754.4 865.6V874.4M1756.7 831.7V865.6M1759.1 814.9V831.7M1763.9 811.3V817.3M1768.6 814.9V822.0M1771.0 802.4V814.9M1773.3 762.3V802.4M1775.7 736.9V762.3M1780.5 736.9V739.1M1782.8 716.9V736.9M1785.2 658.0V716.9M1789.9 681.2V683.4M1792.3 660.3V681.2M1797.1 651.3V679.1M1799.4 633.4V651.3M1801.8 593.3V633.4M1804.2 566.3V593.3M1811.3 590.9V621.7M1816.0 615.2V650.1M1818.4 569.0V615.2M1820.8 554.8V569.0M1823.2 518.6V554.8M1827.9 447.4V547.7M1835.0 472.5V479.4M1837.4 460.8V472.5M1844.5 605.4V607.6M1846.9 586.7V605.4M1856.4 630.8V633.0M1861.1 645.4V667.4M1865.9 669.8V679.2M1873.0 725.5V731.3M1875.3 688.9V725.5M1877.7 671.1V688.9M1880.1 650.6V671.1M1884.8 650.7V660.9M1894.3 700.2V717.3M1899.1 742.8V745.1M1901.4 714.1V742.8M1903.8 711.9V714.1M1908.5 679.9V714.1M1910.9 671.5V679.9M1922.8 688.1V701.4M1932.3 738.2V757.2M1934.6 713.6V738.2M1937.0 696.8V713.6M1939.4 678.5V696.8M1941.8 659.7V678.5M1944.1 652.3V659.7M1948.9 650.0V665.1M1951.2 623.7V650.0M1956.0 618.3V625.9M1960.7 626.0V628.2M1965.5 615.7V635.6M1970.2 633.6V641.3M1984.5 723.9V726.1M1986.8 705.6V723.9M1989.2 702.9V705.6M1991.6 681.4V702.9M1996.3 665.3V685.4M1998.7 661.9V665.3M2008.2 671.4V677.7M2010.5 666.7V671.4M2015.3 656.6V668.9M2017.7 645.1V656.6M2027.1 646.7V666.8M2034.3 651.4V661.1M2036.6 646.6V651.4M2039.0 644.4V646.6M2043.8 627.6V660.3M2046.1 618.7V627.6M2065.1 710.5V724.1M2074.6 731.3V753.7M2079.3 731.3V733.5M2081.7 698.0V731.3M2084.1 674.0V698.0M2086.4 663.0V674.0M2091.2 634.8V671.2M2093.6 612.6V634.8M2098.3 608.5V614.8M2103.1 591.5V629.8M2107.8 567.6V598.8M2110.2 564.2V567.6M2112.5 529.3V564.2M2117.3 538.6V556.2M2122.0 528.0V540.8M2126.8 605.7V607.9M2136.3 671.7V682.0M2148.1 784.8V795.9M2150.5 756.4V784.8M2152.9 749.6V756.4M2155.2 739.5V749.6M2157.6 734.2V739.5M2171.8 816.5V829.5M2174.2 810.5V816.5M2176.6 796.2V810.5M2186.1 825.7V827.9M2190.8 823.4V827.9M2193.2 815.8V823.4M2197.9 824.4V835.5M2200.3 806.6V824.4M2202.7 802.2V806.6M2205.0 799.7V802.2M2207.4 795.3V799.7M2209.8 783.6V795.3M2212.2 781.4V783.6M2214.5 766.4V781.4M2219.3 759.9V777.3M2231.1 810.5V814.7M2233.5 803.1V810.5" stroke="#74a585" stroke-width="2.7" fill="none"/><path d="M115.3 1086.2V1128.7M120.1 1076.2V1120.2M122.4 1120.2V1171.5M124.8 1171.5V1262.2M129.5 1210.8V1280.4M141.4 1118.7V1120.9M148.5 1051.4V1053.6M150.9 1053.6V1068.4M155.6 1066.2V1078.0M158.0 1078.0V1156.8M162.8 1112.0V1161.4M167.5 1100.7V1123.4M169.9 1123.4V1141.0M172.2 1141.0V1198.3M174.6 1198.3V1217.4M179.4 1213.0V1224.3M181.7 1224.3V1226.5M184.1 1226.5V1228.7M188.8 1225.2V1261.3M196.0 1229.9V1232.1M198.3 1232.1V1245.3M200.7 1245.3V1302.3M203.1 1302.3V1316.4M210.2 1277.4V1310.2M212.6 1310.2V1312.4M217.3 1297.7V1350.7M222.1 1312.9V1346.7M224.4 1346.7V1357.1M226.8 1357.1V1360.8M231.5 1358.6V1374.9M236.3 1350.9V1365.8M238.7 1365.8V1370.6M243.4 1360.3V1366.2M252.9 1314.0V1325.4M255.3 1325.4V1334.2M267.1 1251.7V1253.9M271.9 1236.0V1247.4M276.6 1245.2V1264.4M281.4 1236.6V1238.8M286.1 1205.9V1221.7M288.5 1221.7V1243.2M295.6 1191.5V1201.6M307.4 1063.2V1084.4M309.8 1084.4V1121.8M319.3 1100.2V1184.6M321.7 1184.6V1201.3M324.1 1201.3V1227.8M331.2 1185.4V1193.8M335.9 1184.4V1204.2M340.7 1190.7V1211.3M343.0 1211.3V1245.6M345.4 1245.6V1291.6M350.1 1288.8V1347.6M354.9 1315.9V1354.8M357.3 1354.8V1360.5M373.9 1240.6V1267.4M378.6 1240.8V1259.4M381.0 1259.4V1281.7M383.4 1281.7V1300.2M385.7 1300.2V1331.0M392.8 1286.7V1292.9M395.2 1292.9V1325.4M397.6 1325.4V1327.6M400.0 1327.6V1347.2M404.7 1327.6V1362.1M407.1 1362.1V1369.0M411.8 1366.8V1390.6M416.6 1369.8V1419.5M426.0 1367.0V1369.1M435.5 1357.2V1376.9M437.9 1376.9V1379.0M442.7 1370.0V1396.4M445.0 1396.4V1403.3M449.8 1395.2V1414.9M466.4 1312.7V1317.9M471.1 1285.9V1296.9M473.5 1296.9V1318.9M475.9 1318.9V1347.9M478.2 1347.9V1357.6M487.7 1303.0V1305.3M494.8 1262.7V1268.8M502.0 1240.0V1262.2M509.1 1252.2V1262.4M511.4 1262.4V1288.4M513.8 1288.4V1291.7M518.6 1261.3V1289.8M528.0 1250.7V1266.8M530.4 1266.8V1275.3M537.5 1261.9V1276.9M542.3 1266.8V1269.0M554.1 1207.7V1212.9M556.5 1212.9V1217.5M563.6 1190.3V1199.1M568.4 1171.7V1183.5M573.1 1159.6V1192.4M575.5 1192.4V1204.4M577.9 1204.4V1208.4M582.6 1202.7V1228.4M585.0 1228.4V1231.2M587.3 1231.2V1269.1M589.7 1269.1V1283.1M594.5 1256.1V1266.7M603.9 1254.1V1256.3M608.7 1231.2V1235.5M611.1 1235.5V1241.7M613.4 1241.7V1252.2M615.8 1252.2V1258.7M618.2 1258.7V1270.1M622.9 1266.2V1273.0M630.0 1237.3V1270.7M649.0 1187.2V1202.6M653.8 1180.4V1201.2M658.5 1179.1V1206.2M665.6 1192.7V1194.9M668.0 1194.9V1214.4M675.1 1158.6V1192.1M677.5 1192.1V1213.2M679.9 1213.2V1218.5M689.3 1166.1V1189.6M691.7 1189.6V1203.7M696.5 1194.8V1224.4M698.8 1224.4V1232.6M710.7 1204.0V1222.5M713.1 1222.5V1251.8M715.4 1251.8V1258.1M717.8 1258.1V1263.7M722.5 1243.9V1267.2M732.0 1226.5V1234.0M734.4 1234.0V1244.7M739.2 1242.5V1254.0M741.5 1254.0V1261.9M743.9 1261.9V1264.1M751.0 1235.0V1243.9M758.1 1224.5V1228.6M765.2 1223.1V1259.0M767.6 1259.0V1261.2M770.0 1261.2V1267.1M772.4 1267.1V1271.1M777.1 1258.9V1262.2M779.5 1262.2V1271.0M786.6 1253.1V1270.3M789.0 1270.3V1274.5M796.1 1255.0V1257.2M803.2 1247.1V1249.3M805.6 1249.3V1253.9M807.9 1253.9V1258.1M824.5 1221.3V1223.5M843.5 1116.1V1129.4M857.8 1054.8V1076.7M864.9 1050.8V1065.4M881.5 881.0V883.2M883.8 883.2V915.2M886.2 915.2V924.6M891.0 889.9V892.1M898.1 762.3V819.1M902.8 808.2V827.7M907.6 801.0V848.1M909.9 848.1V850.3M912.3 850.3V858.3M914.7 858.3V909.3M917.1 909.3V931.8M924.2 862.0V871.6M926.5 871.6V901.6M928.9 901.6V910.8M943.1 815.3V817.5M945.5 817.5V855.8M947.9 855.8V862.4M950.3 862.4V864.6M952.6 864.6V890.0M955.0 890.0V892.2M959.7 856.7V858.9M962.1 858.9V863.1M964.5 863.1V882.2M966.9 882.2V898.8M981.1 787.3V789.5M983.5 789.5V798.0M985.8 798.0V803.4M988.2 803.4V811.9M990.6 811.9V817.6M997.7 779.0V816.0M1004.8 781.4V785.4M1007.2 785.4V854.5M1011.9 852.3V858.1M1019.0 815.5V873.7M1021.4 873.7V895.6M1023.8 895.6V897.8M1028.5 878.9V897.0M1030.9 897.0V914.8M1033.3 914.8V919.4M1035.7 919.4V922.0M1040.4 919.8V926.9M1045.1 893.6V895.8M1049.9 893.6V925.2M1057.0 852.6V854.8M1061.7 848.9V864.5M1064.1 864.5V866.5M1066.5 866.5V873.1M1068.9 873.1V880.6M1073.6 871.4V881.3M1076.0 881.3V899.3M1083.1 862.2V876.6M1099.7 798.7V833.8M1106.8 757.4V759.6M1111.6 719.2V778.1M1118.7 695.5V709.9M1121.0 709.9V716.2M1123.4 716.2V746.9M1128.2 699.7V766.3M1142.4 722.8V736.5M1144.8 736.5V752.1M1147.1 752.1V759.0M1149.5 759.0V768.0M1154.3 761.7V765.0M1156.6 765.0V782.4M1159.0 782.4V788.7M1161.4 788.7V799.2M1166.1 797.0V826.2M1168.5 826.2V837.9M1173.2 832.8V835.0M1175.6 835.0V839.2M1178.0 839.2V853.8M1180.3 853.8V858.6M1182.7 858.6V875.8M1185.1 875.8V900.0M1187.5 900.0V902.2M1189.8 902.2V923.9M1194.6 910.9V913.1M1196.9 913.1V937.3M1199.3 937.3V949.1M1204.1 946.9V949.1M1208.8 946.8V949.0M1213.6 932.4V934.5M1227.8 905.5V907.7M1230.2 907.7V909.9M1232.5 909.9V930.1M1234.9 930.1V933.1M1239.6 926.0V941.9M1244.4 939.7V966.0M1246.8 966.0V998.6M1251.5 996.4V1046.7M1256.2 1034.5V1039.9M1258.6 1039.9V1045.2M1263.4 997.5V1000.6M1268.1 996.5V1007.7M1270.5 1007.7V1009.9M1275.2 1003.0V1014.7M1280.0 998.3V1000.5M1289.5 941.4V945.1M1294.2 916.1V918.3M1298.9 897.3V904.9M1303.7 892.2V902.9M1308.4 885.3V887.9M1315.5 873.1V879.6M1320.3 871.9V875.0M1322.7 875.0V894.0M1325.0 894.0V899.7M1329.8 897.5V902.9M1336.9 882.7V885.8M1339.3 885.8V888.2M1353.5 825.6V827.8M1355.9 827.8V830.0M1358.2 830.0V849.9M1363.0 826.4V853.6M1365.4 853.6V859.8M1367.7 859.8V864.9M1374.8 851.6V869.3M1379.6 857.9V860.1M1384.3 857.9V860.1M1389.1 842.0V851.2M1391.5 851.2V853.2M1396.2 847.3V851.1M1403.3 823.6V825.8M1405.7 825.8V832.7M1412.8 818.7V820.9M1417.5 815.1V828.8M1419.9 828.8V831.1M1422.3 831.1V848.7M1424.7 848.7V860.4M1427.0 860.4V866.9M1438.9 820.6V827.9M1441.3 827.9V830.1M1446.0 816.0V826.4M1450.8 804.5V811.0M1455.5 784.6V786.8M1457.9 786.8V794.2M1462.6 792.0V819.0M1465.0 819.0V821.2M1467.4 821.2V835.4M1472.1 818.1V830.7M1479.2 811.6V822.8M1484.0 811.5V849.3M1491.1 831.6V833.8M1493.4 833.8V842.1M1507.7 796.4V805.4M1510.1 805.4V832.2M1521.9 697.7V794.9M1526.7 784.6V791.4M1531.4 748.0V797.1M1536.1 759.8V790.4M1540.9 788.2V835.9M1545.6 824.7V869.1M1552.7 835.9V852.5M1555.1 852.5V860.7M1557.5 860.7V868.6M1559.9 868.6V872.1M1562.2 872.1V932.9M1564.6 932.9V936.4M1567.0 936.4V942.2M1569.4 942.2V951.1M1574.1 938.1V946.8M1576.5 946.8V954.6M1583.6 920.8V933.9M1586.0 933.9V936.3M1593.1 920.0V944.5M1597.8 923.2V956.5M1602.6 954.3V974.1M1604.9 974.1V997.2M1609.7 987.8V995.2M1612.0 995.2V1017.5M1623.9 996.2V1006.4M1631.0 978.7V1012.9M1633.4 1012.9V1015.1M1642.9 952.4V954.6M1645.3 954.6V956.8M1647.6 956.8V962.4M1650.0 962.4V972.2M1652.4 972.2V986.1M1654.7 986.1V996.2M1657.1 996.2V999.4M1661.9 996.5V1016.5M1666.6 1002.4V1008.2M1680.8 945.0V947.2M1685.6 935.1V960.6M1692.7 934.0V938.5M1697.4 930.7V962.8M1704.6 930.6V932.8M1711.7 902.2V904.4M1714.0 904.4V921.5M1721.2 896.3V899.3M1725.9 867.3V874.0M1733.0 844.4V854.6M1735.4 854.6V871.2M1740.1 856.8V881.4M1742.5 881.4V896.8M1744.9 896.8V899.0M1747.3 899.0V901.2M1752.0 864.8V874.4M1761.5 814.9V817.3M1766.2 811.3V822.0M1778.1 736.9V739.1M1787.6 658.0V683.4M1794.7 660.3V679.1M1806.6 566.3V575.6M1808.9 575.6V621.7M1813.7 590.9V650.1M1825.5 518.6V547.7M1830.3 447.4V459.2M1832.6 459.2V479.4M1839.8 460.8V530.0M1842.1 530.0V607.6M1849.2 586.7V598.2M1851.6 598.2V625.3M1854.0 625.3V633.0M1858.7 630.8V667.4M1863.5 645.4V679.2M1868.2 669.8V709.5M1870.6 709.5V731.3M1882.5 650.6V660.9M1887.2 650.7V671.7M1889.6 671.7V693.0M1891.9 693.0V717.3M1896.7 700.2V745.1M1906.2 711.9V714.1M1913.3 671.5V674.6M1915.7 674.6V676.8M1918.0 676.8V699.2M1920.4 699.2V701.4M1925.2 688.1V708.7M1927.5 708.7V713.9M1929.9 713.9V757.2M1946.5 652.3V665.1M1953.6 623.7V625.9M1958.4 618.3V628.2M1963.1 626.0V635.6M1967.8 615.7V641.3M1972.6 633.6V666.6M1975.0 666.6V668.8M1977.3 668.8V698.1M1979.7 698.1V700.3M1982.1 700.3V726.1M1993.9 681.4V685.4M2001.1 661.9V664.4M2003.4 664.4V675.4M2005.8 675.4V677.7M2012.9 666.7V668.9M2020.0 645.1V662.4M2022.4 662.4V664.6M2024.8 664.6V666.8M2029.5 646.7V657.5M2031.9 657.5V661.1M2041.4 644.4V660.3M2048.5 618.7V643.9M2050.9 643.9V648.9M2053.2 648.9V675.8M2055.6 675.8V678.7M2058.0 678.7V685.5M2060.4 685.5V704.4M2062.7 704.4V724.1M2067.5 710.5V716.5M2069.8 716.5V751.5M2072.2 751.5V753.7M2077.0 731.3V733.5M2088.8 663.0V671.2M2095.9 612.6V614.8M2100.7 608.5V629.8M2105.4 591.5V598.8M2114.9 529.3V556.2M2119.7 538.6V540.8M2124.4 528.0V607.9M2129.1 605.7V615.2M2131.5 615.2V665.4M2133.9 665.4V682.0M2138.6 671.7V675.4M2141.0 675.4V691.9M2143.4 691.9V721.7M2145.7 721.7V795.9M2160.0 734.2V755.3M2162.4 755.3V762.9M2164.7 762.9V813.2M2167.1 813.2V827.3M2169.5 827.3V829.5M2179.0 796.2V804.9M2181.3 804.9V825.7M2183.7 825.7V827.9M2188.4 825.7V827.9M2195.6 815.8V835.5M2216.9 766.4V777.3M2221.7 759.9V778.4M2224.0 778.4V786.2M2226.4 786.2V806.3M2228.8 806.3V814.7M2235.9 803.1V820.4M2238.3 820.4V826.4M2240.6 826.4V838.8M2243.0 838.8V849.4" stroke="#b67873" stroke-width="2.7" fill="none"/><path d="M1829.5 398h3M417 1440.5h3" stroke="#2e3434" stroke-width="1.2"/><path d="M416.8 1433.6L2288.6 825.1" stroke="#cf48c2" stroke-width="6.1" stroke-dasharray="16.4 5.602" fill="none"/><ellipse cx="2244.8" cy="841" rx="39.2" ry="44.4" fill="rgba(222,64,64,0.30)" stroke="#cc2d2d" stroke-width="5"/></svg>
<div class="abs" style="left:2382px;top:262px;width:2px;height:1270px;background:#7d2a7b"></div>
<div class="abs" style="left:111px;top:1530px;width:2273px;height:2px;background:#7d2a7b"></div>
<div class="abs" style="left:131.5px;top:1531px;width:2px;height:10px;background:#7d2a7b"></div>
<div class="abs" style="left:378.4px;top:1531px;width:2px;height:10px;background:#7d2a7b"></div>
<div class="abs" style="left:627.4px;top:1531px;width:2px;height:10px;background:#7d2a7b"></div>
<div class="abs" style="left:873.8px;top:1531px;width:2px;height:10px;background:#7d2a7b"></div>
<div class="abs" style="left:1120.7px;top:1531px;width:2px;height:10px;background:#7d2a7b"></div>
<div class="abs" style="left:1369.8px;top:1531px;width:2px;height:10px;background:#7d2a7b"></div>
<div class="abs" style="left:1616.7px;top:1531px;width:2px;height:10px;background:#7d2a7b"></div>
<div class="abs" style="left:1863.0px;top:1531px;width:2px;height:10px;background:#7d2a7b"></div>
<div class="abs" style="left:2112.0px;top:1531px;width:2px;height:10px;background:#7d2a7b"></div>
<div class="abs" style="left:2358.6px;top:1531px;width:2px;height:10px;background:#7d2a7b"></div>
<span class="t" style="left:2405.1px;top:264.9px;font-size:24.3px;line-height:24.3px;color:#555;transform:scaleX(1.0295);">120.00</span>
<span class="t" style="left:2405.1px;top:387.4px;font-size:24.3px;line-height:24.3px;color:#555;transform:scaleX(1.0564);">115.00</span>
<span class="t" style="left:2405.1px;top:509.8px;font-size:24.3px;line-height:24.3px;color:#555;transform:scaleX(1.0564);">110.00</span>
<span class="t" style="left:2405.1px;top:632.2px;font-size:24.3px;line-height:24.3px;color:#555;transform:scaleX(1.0295);">105.00</span>
<span class="t" style="left:2405.1px;top:754.6px;font-size:24.3px;line-height:24.3px;color:#555;transform:scaleX(1.0295);">100.00</span>
<span class="t" style="left:2405.9px;top:877.0px;font-size:24.3px;line-height:24.3px;color:#555;transform:scaleX(1.0373);">95.00</span>
<span class="t" style="left:2405.9px;top:999.5px;font-size:24.3px;line-height:24.3px;color:#555;transform:scaleX(1.0373);">90.00</span>
<span class="t" style="left:2406.0px;top:1121.9px;font-size:24.3px;line-height:24.3px;color:#555;transform:scaleX(1.0352);">85.00</span>
<span class="t" style="left:2406.0px;top:1244.3px;font-size:24.3px;line-height:24.3px;color:#555;transform:scaleX(1.0352);">80.00</span>
<span class="t" style="left:2405.7px;top:1366.7px;font-size:24.3px;line-height:24.3px;color:#555;transform:scaleX(1.0395);">75.00</span>
<span class="t" style="left:2405.7px;top:1489.1px;font-size:24.3px;line-height:24.3px;color:#555;transform:scaleX(1.0395);">70.00</span>
<div class="abs" style="left:2383px;top:835px;width:92px;height:41px;background:#d94a4a"></div>
<span class="t" style="left:2405.1px;top:844.0px;font-size:24.5px;line-height:24.5px;color:#fff;transform:scaleX(1.0078);font-weight:bold;">96.36</span>
<div class="abs" style="left:113px;top:1540px;width:2300px;height:44px;overflow:hidden"><span class="t" style="left:-8.5px;top:8.0px;font-size:24.3px;line-height:24.3px;color:#555;transform:scaleX(1.0336);">2009</span><span class="t" style="left:238.3px;top:8.0px;font-size:24.3px;line-height:24.3px;color:#555;transform:scaleX(1.0714);">2011</span><span class="t" style="left:487.4px;top:8.0px;font-size:24.3px;line-height:24.3px;color:#555;transform:scaleX(1.0312);">2013</span><span class="t" style="left:733.8px;top:8.0px;font-size:24.3px;line-height:24.3px;color:#555;transform:scaleX(1.0312);">2015</span><span class="t" style="left:980.7px;top:8.0px;font-size:24.3px;line-height:24.3px;color:#555;transform:scaleX(1.0336);">2017</span><span class="t" style="left:1229.8px;top:8.0px;font-size:24.3px;line-height:24.3px;color:#555;transform:scaleX(1.0336);">2019</span><span class="t" style="left:1476.7px;top:8.0px;font-size:24.3px;line-height:24.3px;color:#555;transform:scaleX(1.0336);">2021</span><span class="t" style="left:1723.0px;top:8.0px;font-size:24.3px;line-height:24.3px;color:#555;transform:scaleX(1.0312);">2023</span><span class="t" style="left:1972.0px;top:8.0px;font-size:24.3px;line-height:24.3px;color:#555;transform:scaleX(1.0312);">2025</span><span class="t" style="left:2218.6px;top:8.0px;font-size:24.3px;line-height:24.3px;color:#555;transform:scaleX(1.0336);">2027</span></div>
<div class="abs" style="left:21px;top:174.5px;width:2472px;height:2px;background:#cfcfcf"></div>
<div class="abs" style="left:21px;top:257px;width:2472px;height:2px;background:#cfcfcf"></div>
<div class="abs" style="left:109px;top:258px;width:2px;height:1389px;background:#cfcfcf"></div>
<div class="abs" style="left:110px;top:1585px;width:2384px;height:2px;background:#dcdcdc"></div>
<div class="abs" style="left:21px;top:659px;width:89px;height:2px;background:#cfcfcf"></div>
<div class="abs" style="left:21px;top:933px;width:89px;height:2px;background:#cfcfcf"></div>
<div class="abs" style="left:21px;top:1143.5px;width:89px;height:2px;background:#cfcfcf"></div>
<div class="abs" style="left:2337px;top:200.5px;width:2px;height:43px;background:#cfcfcf"></div>
<div class="abs" style="left:2344.5px;top:1591px;width:2px;height:52px;background:#cfcfcf"></div>
<div class="abs" style="left:41.4px;top:197px;width:369px;height:50px;background:#e1e1e1;border-radius:9px"></div>
<div class="abs" style="left:2234.5px;top:66.5px;width:254px;height:44.5px;border:2px solid #2f5fa3;border-radius:4px"></div>
<span class="t" style="left:93.5px;top:208.4px;font-size:30.5px;line-height:30.5px;color:#7a7a7a;transform:scaleX(0.8166);font-style:italic;">Symbol...</span>
<span class="t" style="left:432.4px;top:208.8px;font-size:29.5px;line-height:29.5px;color:#222;transform:scaleX(0.9581);">Weekly</span>
<span class="t" style="left:589.4px;top:208.8px;font-size:29.5px;line-height:29.5px;color:#222;transform:scaleX(0.9150);">3-Year</span>
<span class="t" style="left:833.9px;top:208.8px;font-size:29.5px;line-height:29.5px;color:#222;transform:scaleX(0.9783);">Indicators</span>
<span class="t" style="left:998.3px;top:208.8px;font-size:29.5px;line-height:29.5px;color:#222;transform:scaleX(0.9436);">Compare</span>
<span class="t" style="left:1152.7px;top:208.8px;font-size:29.5px;line-height:29.5px;color:#222;transform:scaleX(0.9368);">f(x)</span>
<span class="t" style="left:1227.6px;top:208.8px;font-size:29.5px;line-height:29.5px;color:#222;transform:scaleX(0.9441);">1x1</span>
<span class="t" style="left:2119.5px;top:208.8px;font-size:29.5px;line-height:29.5px;color:#222;transform:scaleX(0.9315);">Templates</span>
<span class="t" style="left:2244.8px;top:78.6px;font-size:28px;line-height:28px;color:#1f4e8c;transform:scaleX(0.9204);-webkit-text-stroke:0.45px #1f4e8c;">Full Screen Chart</span>
<span class="t" style="left:1676.4px;top:137.2px;font-size:28.6px;line-height:28.6px;color:#1f4e8c;transform:scaleX(0.9389);-webkit-text-stroke:0.45px #1f4e8c;">Notes</span>
<span class="t" style="left:1806.8px;top:137.2px;font-size:28.6px;line-height:28.6px;color:#1f4e8c;transform:scaleX(0.9080);-webkit-text-stroke:0.45px #1f4e8c;">My Charts</span>
<span class="t" style="left:1993.0px;top:137.2px;font-size:28.6px;line-height:28.6px;color:#1f4e8c;transform:scaleX(0.9144);-webkit-text-stroke:0.45px #1f4e8c;">Alerts</span>
<span class="t" style="left:2120.4px;top:137.2px;font-size:28.6px;line-height:28.6px;color:#1f4e8c;transform:scaleX(0.9068);-webkit-text-stroke:0.45px #1f4e8c;">Watch</span>
<span class="t" style="left:2251.9px;top:137.2px;font-size:28.6px;line-height:28.6px;color:#1f4e8c;transform:scaleX(0.9439);-webkit-text-stroke:0.45px #1f4e8c;">Actions</span>
<span class="t" style="left:2383.2px;top:137.2px;font-size:28.6px;line-height:28.6px;color:#1f4e8c;transform:scaleX(0.9649);-webkit-text-stroke:0.45px #1f4e8c;">Help</span>
<div class="abs" style="left:215px;top:279px;width:8px;height:36px;background:#000"></div>
<span class="t" style="left:233.2px;top:283.5px;font-size:31px;line-height:31px;color:#111;transform:scaleX(0.9515);font-weight:bold;">$DXY</span>
<span class="t" style="left:324.6px;top:283.5px;font-size:31px;line-height:31px;color:#222;transform:scaleX(0.9882);">1W</span>
<span class="t" style="left:150.3px;top:1603.9px;font-size:29px;line-height:29px;color:#222;transform:scaleX(1.0569);">1D</span>
<span class="t" style="left:220.3px;top:1603.9px;font-size:29px;line-height:29px;color:#222;transform:scaleX(1.0432);">5D</span>
<span class="t" style="left:289.0px;top:1603.9px;font-size:29px;line-height:29px;color:#222;transform:scaleX(1.1057);">1M</span>
<span class="t" style="left:363.0px;top:1603.9px;font-size:29px;line-height:29px;color:#222;transform:scaleX(1.1166);">2M</span>
<span class="t" style="left:437.6px;top:1603.9px;font-size:29px;line-height:29px;color:#222;transform:scaleX(1.1034);">3M</span>
<span class="t" style="left:510.8px;top:1603.9px;font-size:29px;line-height:29px;color:#222;transform:scaleX(1.1111);">6M</span>
<span class="t" style="left:585.6px;top:1603.9px;font-size:29px;line-height:29px;color:#222;transform:scaleX(1.1013);">9M</span>
<span class="t" style="left:660.4px;top:1603.9px;font-size:29px;line-height:29px;color:#222;transform:scaleX(0.9379);">1Y</span>
<span class="t" style="left:724.5px;top:1603.9px;font-size:29px;line-height:29px;color:#222;transform:scaleX(1.0195);">2Y</span>
<span class="t" style="left:857.2px;top:1603.9px;font-size:29px;line-height:29px;color:#222;transform:scaleX(0.9929);">5Y</span>
<span class="t" style="left:923.5px;top:1603.9px;font-size:29px;line-height:29px;color:#222;transform:scaleX(0.9914);">10Y</span>
<span class="t" style="left:1005.4px;top:1603.9px;font-size:29px;line-height:29px;color:#222;transform:scaleX(0.9950);">20Y</span>
<span class="t" style="left:1087.7px;top:1603.9px;font-size:29px;line-height:29px;color:#222;">Max</span>
<span class="t" style="left:791.4px;top:1603.9px;font-size:29px;line-height:29px;color:#2b62ad;transform:scaleX(0.9777);font-weight:bold;">3Y</span>
<span class="t" style="left:2370.1px;top:1604.7px;font-size:28px;line-height:28px;color:#222;transform:scaleX(0.8624);">%</span>
<span class="t" style="left:2431.6px;top:1603.9px;font-size:29px;line-height:29px;color:#222;transform:scaleX(0.9832);">log</span>
<span class="t" style="left:117.9px;top:1465.1px;font-size:62.5px;line-height:62.5px;color:#b3b3b3;transform:scaleX(0.9934);font-weight:bold;">barchart</span>
<span class="t" style="left:2454.9px;top:140.0px;font-size:25px;line-height:25px;color:#1f4e8c;font-weight:bold;">?</span>
<span class="t" style="left:58.4px;top:543.7px;font-size:24.5px;line-height:24.5px;color:#222;">3</span>
<svg class="abs" style="left:0;top:0" width="2500" height="1662" viewBox="0 0 2500 1662"><circle cx="61.5" cy="220" r="9.3" stroke="#777" stroke-width="2.2" fill="none"/><path d="M68.3 226.8L78 235" stroke="#777" stroke-width="2.4" stroke-linecap="round"/><path d="M542.0 220.9L549.0 228.7L556.0 220.9" stroke="#222" stroke-width="2.0" fill="none" stroke-linecap="round" stroke-linejoin="round"/><path d="M685.3 220.9L692.3 228.7L699.3 220.9" stroke="#222" stroke-width="2.0" fill="none" stroke-linecap="round" stroke-linejoin="round"/><path d="M781.7 220.9L788.7 228.7L795.7 220.9" stroke="#222" stroke-width="2.0" fill="none" stroke-linecap="round" stroke-linejoin="round"/><path d="M1289.5 220.9L1296.5 228.7L1303.5 220.9" stroke="#222" stroke-width="2.0" fill="none" stroke-linecap="round" stroke-linejoin="round"/><g stroke="#222" stroke-width="2" fill="none"><rect x="738" y="213" width="8" height="12"/><path d="M742 208.2V213M742 225V229.5"/><rect x="752" y="218.5" width="8" height="12.5"/><path d="M756 215V218.5M756 231V235.5"/></g><path d="M2455 98.8L2469.5 84.3M2459.5 84H2470.3V94.8" stroke="#1f4e8c" stroke-width="3.2" fill="none"/><g stroke="#1f4e8c" stroke-width="2.4" fill="none" stroke-linejoin="round" stroke-linecap="round"><path d="M1768 140.5H1759.5a3.5 3.5 0 0 0-3.5 3.5V160a3.5 3.5 0 0 0 3.5 3.5H1775.5a3.5 3.5 0 0 0 3.5-3.5V152"/><path d="M1778.5 137.3a3.1 3.1 0 0 1 4.6 4.6L1769.5 155.5l-6 1.5 1.5-6z"/></g><circle cx="1952" cy="150" r="14.6" stroke="#1f4e8c" stroke-width="2.4" fill="none"/><path d="M1944.5 150H1959.5M1952 142.5V157.5" stroke="#1f4e8c" stroke-width="2.6"/><circle cx="2082" cy="150.5" r="15.3" fill="#f0a73c"/><rect x="2080.3" y="141" width="3.6" height="12" rx="1" fill="#fff"/><circle cx="2082.1" cy="158.3" r="2.1" fill="#fff"/><polygon points="2214.3,134.7 2218.8,145.4 2230.3,146.3 2221.5,153.8 2224.2,165.1 2214.3,159.1 2204.4,165.1 2207.1,153.8 2198.3,146.3 2209.8,145.4" stroke="#1f4e8c" stroke-width="2.5" fill="none" stroke-linejoin="round"/><path d="M2353.5 146.5H2368L2360.8 154.3Z" fill="#1f4e8c" stroke="#1f4e8c" stroke-width="1.5" stroke-linejoin="round"/><circle cx="2462.3" cy="151" r="14.8" stroke="#1f4e8c" stroke-width="2.6" fill="none"/><path d="M2315.5 219.4L2315.5 224.6L2311.7 224.6L2310.3 227.9L2313.0 230.6L2309.3 234.3L2306.6 231.6L2303.3 233.0L2303.3 236.8L2298.1 236.8L2298.1 233.0L2294.8 231.6L2292.1 234.3L2288.4 230.6L2291.1 227.9L2289.7 224.6L2285.9 224.6L2285.9 219.4L2289.7 219.4L2291.1 216.1L2288.4 213.4L2292.1 209.7L2294.8 212.4L2298.1 211.0L2298.1 207.2L2303.3 207.2L2303.3 211.0L2306.6 212.4L2309.3 209.7L2313.0 213.4L2310.3 216.1L2311.7 219.4Z" stroke="#222" stroke-width="2.5" fill="none" stroke-linejoin="round"/><circle cx="2300.7" cy="222" r="4.3" stroke="#222" stroke-width="2.5" fill="none"/><path d="M2367.5 221.3L2376.8 212.3L2386 221.3M2367.5 232.8L2376.8 223.8L2386 232.8" stroke="#222" stroke-width="2.7" fill="none" stroke-linecap="round" stroke-linejoin="round"/><g transform="translate(2420.85 202.15) scale(1.65)"><path d="M21 12.79A9 9 0 1 1 11.21 3 7 7 0 0 0 21 12.79z" stroke="#222" stroke-width="1.65" fill="none" stroke-linejoin="round"/></g><path d="M97.8 292.4L104.4 299.0L97.8 305.6" stroke="#555" stroke-width="1.5" fill="none"/><path d="M97.8 356.1L104.4 362.7L97.8 369.3" stroke="#555" stroke-width="1.5" fill="none"/><path d="M97.8 420.3L104.4 426.9L97.8 433.5" stroke="#555" stroke-width="1.5" fill="none"/><path d="M97.8 484.3L104.4 490.9L97.8 497.5" stroke="#555" stroke-width="1.5" fill="none"/><path d="M97.8 548.2L104.4 554.8L97.8 561.4" stroke="#555" stroke-width="1.5" fill="none"/><path d="M97.8 612.1L104.4 618.7L97.8 625.3" stroke="#555" stroke-width="1.5" fill="none"/><g stroke="#222" stroke-width="2" fill="none"><circle cx="76.4" cy="287.6" r="3.6"/><circle cx="53.4" cy="310.3" r="3.6"/><path d="M56 307.7L73.8 290.2"/><circle cx="56.4" cy="351.4" r="3.6"/><circle cx="50.6" cy="374.4" r="3.6"/><path d="M55.5 354.9L51.5 370.9"/><path d="M63.3 351.4H83.9M63.3 359.2H83.9M63.3 366.9H83.9M63.3 374.4H83.9" stroke-width="2.2"/><ellipse cx="64.9" cy="426.9" rx="15.4" ry="13.3"/></g><circle cx="64.9" cy="413.5" r="3.6" stroke="#222" stroke-width="2" fill="#fff"/><circle cx="64.9" cy="440.2" r="3.6" stroke="#222" stroke-width="2" fill="#fff"/><circle cx="49.4" cy="426.9" r="3.6" stroke="#222" stroke-width="2" fill="#fff"/><circle cx="80.3" cy="426.9" r="3.6" stroke="#222" stroke-width="2" fill="#fff"/><path d="M60.1 478.9H70.2V489.2H77L65.1 504.6L53.2 489.2H60.1Z" stroke="#222" stroke-width="2" fill="none" stroke-linejoin="miter"/><circle cx="65.1" cy="554.8" r="16.6" stroke="#222" stroke-width="2" fill="none"/><g stroke="#222" stroke-width="2" fill="none"><path d="M53.4 605.3H82.9M53.4 622.9H76.5M53.4 632H82.9M65.1 608V630"/><path d="M61.5 611.5L65.1 607.2L68.7 611.5"/><path d="M61.8 626.3H68.4L65.1 630.6Z" fill="#222"/></g><circle cx="49.6" cy="605.3" r="3.6" stroke="#222" stroke-width="2" fill="#fff"/><circle cx="49.6" cy="622.9" r="3.6" stroke="#222" stroke-width="2" fill="#fff"/><circle cx="49.6" cy="632" r="3.6" stroke="#222" stroke-width="2" fill="#fff"/><circle cx="80.3" cy="622.9" r="3.6" stroke="#222" stroke-width="2" fill="#fff"/><g stroke="#222" stroke-width="2.4" fill="none"><path d="M49.1 719V698.5A15.85 15.85 0 0 1 80.8 698.5V719H72.8V698.5A7.9 7.9 0 0 0 57 698.5V719Z"/><path d="M49.1 709.9H57M72.8 709.9H80.8"/></g><g stroke="#222" stroke-width="3" fill="none"><rect x="49.9" y="763.5" width="30.2" height="17.7"/><path d="M57.2 763V755.5A8 8 0 0 1 73 755" stroke-linecap="round" stroke-width="2.8"/></g><g transform="translate(45.78 809.28) scale(1.61)" stroke="#222" stroke-width="1.71" fill="none" stroke-linecap="round" stroke-linejoin="round"><polyline points="1 4 1 10 7 10"/><path d="M3.51 15a9 9 0 1 0 2.13-9.36L1 10"/></g><g transform="translate(45.48 873.28) scale(1.61)" stroke="#bdbdbd" stroke-width="1.71" fill="none" stroke-linecap="round" stroke-linejoin="round"><polyline points="23 4 23 10 17 10"/><path d="M20.49 15a9 9 0 1 1-2.12-9.36L23 10"/></g><g stroke="#222" stroke-width="2.7" fill="none" stroke-linecap="round" stroke-linejoin="round"><path d="M49.5 964.8H80.5"/><path d="M58.5 964.5V961.5a3 3 0 0 1 3-3H68.7a3 3 0 0 1 3 3V964.5"/><path d="M53.5 965V987.5a3.5 3.5 0 0 0 3.5 3.5H73a3.5 3.5 0 0 0 3.5-3.5V965"/></g><g stroke="#222" stroke-width="2.7" fill="none" stroke-linecap="round"><circle cx="63.4" cy="1037.2" r="12.9"/><path d="M73 1046.8L80 1053.8"/><path d="M57.9 1037.2H68.9"/><path d="M63.4 1031.7V1042.7"/></g><g stroke="#222" stroke-width="2.7" fill="none" stroke-linecap="round"><circle cx="63.4" cy="1101" r="12.9"/><path d="M73 1110.6L80 1117.6"/><path d="M57.9 1101H68.9"/></g><path d="M64.4 1175.8L54.2 1184.9L64.4 1194M75.8 1175.8L65.6 1184.9L75.8 1194" stroke="#222" stroke-width="2.7" fill="none" stroke-linecap="round" stroke-linejoin="round"/><path d="M146 302.3C151 295.5 156 293.2 160 293.2C164 293.2 169 295.5 174 302.3C169 308.8 164 311 160 311C156 311 151 308.8 146 302.3Z" stroke="#222" stroke-width="1.7" fill="none"/><circle cx="160.3" cy="303.6" r="6.7" fill="#2a2a2a"/><path d="M157 303.5a3.3 3.3 0 0 0 3 3.3" stroke="#eee" stroke-width="1" fill="none"/><circle cx="186.4" cy="295" r="2" fill="#222"/><circle cx="194.9" cy="295" r="2" fill="#222"/><circle cx="203.3" cy="295" r="2" fill="#222"/><circle cx="319.4" cy="299.9" r="2.3" fill="#222"/><circle cx="374.1" cy="299.9" r="2.3" fill="#222"/><g stroke="#222" stroke-width="2.4" fill="none"><rect x="1182.1" y="1606.5" width="23.7" height="23.8" rx="1"/><path d="M1182 1614.3H1206M1188.6 1602.7V1609.6M1199.4 1602.7V1609.6"/></g><path d="M2297.3 1609L2304 1615.4L2310.7 1609M2297.3 1618.4L2304 1624.8L2310.7 1618.4" stroke="#222" stroke-width="2.7" fill="none" stroke-linecap="round" stroke-linejoin="round"/></svg>
</body></html>
